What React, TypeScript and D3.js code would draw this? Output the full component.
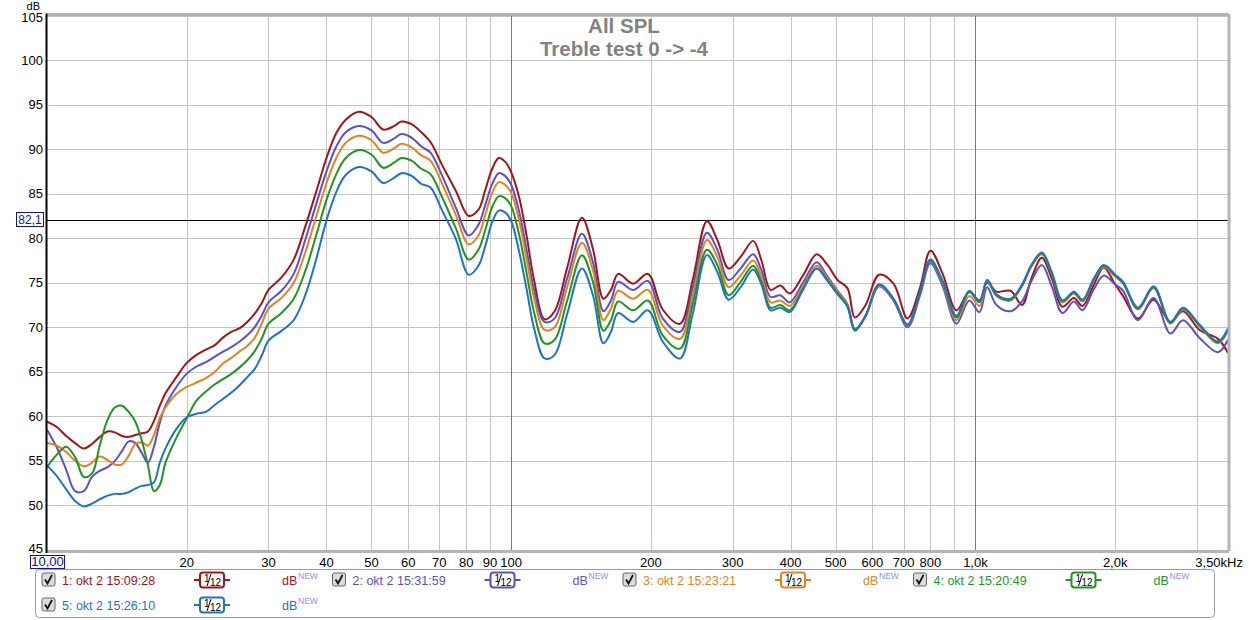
import React from "react";
import * as d3 from "d3";

const freqs = [10, 10.5, 11, 11.5, 12, 12.5, 13, 13.5, 14, 14.5, 15, 15.5, 16, 16.5, 17, 17.5, 18, 19, 20, 21, 22, 23, 24, 25, 26, 27, 28, 29, 30, 32, 34, 36, 38, 40, 42, 44, 47, 50, 53, 56, 58, 61, 64, 67, 71, 76, 81, 85, 88, 91, 94, 97, 100, 104, 108, 112, 118, 124, 132, 142, 150, 158, 164, 170, 183, 197, 212, 231, 246, 264, 278, 294, 312, 332, 346, 362, 380, 398, 425, 455, 480, 505, 530, 550, 580, 620, 666, 714, 760, 800, 850, 910, 970, 1020, 1060, 1110, 1190, 1260, 1320, 1390, 1460, 1540, 1630, 1700, 1800, 1890, 2000, 2080, 2240, 2420, 2630, 2800, 3040, 3330, 3500];

const s1 = [59.4, 58.8, 57.8, 57.0, 56.4, 56.9, 57.7, 58.3, 58.2, 57.8, 57.7, 57.9, 58.1, 58.3, 59.5, 61.2, 62.6, 64.4, 66.0, 66.9, 67.5, 68.0, 68.9, 69.5, 69.9, 70.6, 71.5, 72.7, 74.2, 75.6, 77.6, 81.3, 85.2, 89.0, 91.8, 93.3, 94.2, 93.6, 92.2, 92.6, 93.1, 92.8, 91.9, 90.8, 88.2, 85.3, 82.5, 83.2, 85.5, 87.8, 89.0, 88.6, 87.4, 84.6, 80.2, 75.3, 70.9, 71.8, 76.7, 82.3, 78.8, 73.2, 74.2, 76.0, 74.9, 76.0, 72.0, 70.4, 75.3, 81.9, 79.8, 76.6, 77.9, 79.7, 77.5, 74.2, 74.7, 73.8, 75.8, 78.2, 77.0, 75.3, 74.4, 71.1, 72.5, 75.9, 74.9, 71.0, 74.5, 78.6, 76.0, 71.9, 74.0, 73.0, 75.0, 74.0, 74.1, 72.5, 75.5, 77.8, 75.5, 72.3, 73.3, 72.4, 74.8, 76.7, 74.8, 73.5, 71.0, 73.1, 70.6, 71.8, 69.7, 68.7, 67.1];

const s2 = [58.5, 56.5, 54.0, 51.6, 51.6, 53.2, 53.9, 54.3, 55.0, 56.1, 57.2, 57.0, 55.9, 54.8, 56.6, 59.3, 61.2, 63.3, 64.8, 65.6, 66.1, 66.7, 67.3, 67.8, 68.4, 69.1, 70.0, 71.3, 72.8, 74.1, 76.0, 79.8, 83.8, 87.5, 90.3, 91.9, 92.6, 92.1, 90.7, 91.2, 91.7, 91.3, 90.3, 89.6, 87.0, 83.4, 80.3, 81.5, 83.8, 86.1, 87.3, 87.0, 86.0, 83.0, 78.6, 74.2, 70.6, 71.0, 75.5, 80.5, 77.3, 71.8, 73.0, 75.1, 74.2, 75.2, 71.0, 69.5, 74.4, 80.6, 78.7, 75.3, 76.6, 78.2, 76.4, 73.4, 73.6, 72.8, 75.0, 77.3, 75.7, 74.1, 72.6, 69.8, 71.3, 74.6, 73.0, 70.0, 73.6, 77.2, 74.6, 70.4, 73.0, 71.7, 74.5, 72.5, 71.8, 72.9, 75.2, 77.0, 74.6, 71.6, 72.9, 71.9, 74.3, 75.8, 74.8, 74.1, 70.8, 73.3, 69.3, 70.8, 68.8, 67.2, 68.6];

const s3 = [57.0, 56.7, 56.0, 55.0, 54.4, 54.8, 55.5, 55.1, 54.6, 54.6, 55.6, 56.9, 57.1, 56.7, 57.9, 59.8, 61.0, 62.5, 63.3, 63.8, 64.3, 65.0, 66.0, 66.6, 67.3, 67.9, 68.8, 70.4, 72.1, 73.3, 75.0, 78.4, 82.4, 86.2, 89.0, 90.7, 91.5, 91.0, 89.6, 90.1, 90.6, 90.2, 89.3, 88.7, 86.1, 82.6, 79.3, 80.3, 82.7, 85.1, 86.3, 86.0, 85.1, 82.0, 77.6, 73.3, 69.7, 70.0, 74.5, 79.5, 76.4, 70.8, 72.1, 74.1, 73.2, 74.2, 70.2, 68.7, 73.5, 79.8, 77.9, 74.5, 75.8, 77.5, 75.7, 72.8, 73.0, 72.4, 74.6, 76.9, 75.5, 74.0, 72.5, 69.7, 71.2, 74.7, 73.1, 70.2, 73.8, 77.4, 74.9, 70.8, 73.5, 72.4, 75.2, 73.5, 73.0, 74.6, 76.8, 78.2, 76.0, 72.8, 73.8, 72.9, 75.3, 76.8, 75.7, 74.9, 72.0, 74.4, 70.4, 72.0, 70.1, 68.2, 69.6];

const s4 = [54.3, 55.7, 56.6, 55.4, 53.2, 53.6, 56.8, 59.6, 61.0, 61.2, 60.5, 59.4, 57.3, 54.5, 51.6, 52.3, 54.8, 57.6, 59.8, 61.8, 62.8, 63.6, 64.2, 64.8, 65.5, 66.3, 67.3, 68.7, 70.4, 71.6, 73.2, 76.3, 80.3, 84.3, 87.2, 89.0, 89.9, 89.4, 87.9, 88.5, 89.0, 88.7, 87.8, 87.2, 84.6, 81.1, 77.6, 78.7, 81.0, 83.5, 84.7, 84.5, 83.6, 80.4, 76.0, 71.7, 68.2, 68.6, 73.0, 78.1, 75.1, 69.6, 70.8, 72.9, 71.9, 73.0, 69.1, 67.6, 72.6, 78.7, 77.0, 73.6, 75.1, 76.9, 75.1, 72.2, 72.5, 71.9, 74.3, 76.6, 75.3, 73.8, 72.4, 69.7, 71.3, 74.8, 73.2, 70.3, 73.9, 77.5, 75.1, 71.1, 74.0, 72.8, 75.3, 73.6, 73.1, 74.7, 76.9, 78.3, 76.1, 72.9, 73.9, 73.0, 75.4, 76.9, 75.8, 75.0, 72.1, 74.5, 70.5, 72.1, 70.2, 68.3, 69.8];

const s5 = [54.5, 53.3, 51.8, 50.5, 49.9, 50.2, 50.7, 51.1, 51.3, 51.3, 51.5, 51.9, 52.2, 52.3, 52.6, 54.8, 56.4, 58.6, 59.9, 60.3, 60.5, 61.3, 62.0, 62.7, 63.5, 64.4, 65.3, 66.8, 68.5, 69.6, 70.8, 73.6, 77.6, 82.0, 85.2, 87.1, 88.0, 87.5, 86.2, 86.8, 87.3, 87.0, 86.1, 85.7, 83.1, 79.9, 75.9, 76.9, 79.2, 81.8, 83.1, 82.9, 81.9, 78.5, 74.2, 69.9, 66.5, 66.9, 71.5, 76.6, 73.6, 68.2, 69.5, 71.6, 70.6, 71.9, 68.4, 66.5, 71.5, 78.1, 76.2, 73.1, 74.5, 76.5, 74.8, 71.9, 72.2, 71.7, 74.2, 76.6, 75.2, 73.7, 72.3, 69.6, 71.3, 74.8, 73.2, 70.3, 74.0, 77.6, 75.2, 71.3, 74.1, 72.9, 75.3, 73.7, 73.2, 74.8, 77.0, 78.4, 76.2, 73.0, 74.0, 73.1, 75.5, 77.0, 75.9, 75.1, 72.2, 74.6, 70.6, 72.2, 70.3, 68.4, 69.9];

const seriesValues = [s1, s2, s3, s4, s5];
const seriesNames = ["1: okt 2 15:09:28", "2: okt 2 15:31:59", "3: okt 2 15:23:21", "4: okt 2 15:20:49", "5: okt 2 15:26:10"];
const seriesColors = ["#a3141a", "#5a50c8", "#e2831f", "#1f951f", "#1f72c4"];

const yTicks = [45, 50, 55, 60, 65, 70, 75, 80, 85, 90, 95, 100, 105];
const xGrid = [20, 30, 40, 50, 60, 70, 80, 90, 100, 200, 300, 400, 500, 600, 700, 800, 900, 1000, 2000, 3000];
const xLabelValues = [20, 30, 40, 50, 60, 70, 80, 90, 100, 200, 300, 400, 500, 600, 700, 800, 1000, 2000];
const xLabelTexts = ["20", "30", "40", "50", "60", "70", "80", "90", "100", "200", "300", "400", "500", "600", "700", "800", "1,0k", "2,0k"];
const cursorLevel = 82.1;
const titleLines = ["All SPL", "Treble test 0 -> -4"];

const W = 1249, H = 620;
const L = 47, R = 1228, T = 15.5, B = 550;
const FONT = "Arial, 'Liberation Sans', sans-serif";

function Checkbox({ x, y }: { x: number; y: number }) {
  return (
    <g>
      <rect x={x} y={y} width={13} height={13} rx={2} fill="#dcdcdc" stroke="#666" strokeWidth={1} />
      <path d={`M${x + 3},${y + 6.5} L${x + 5.5},${y + 10.5} L${x + 10},${y + 2}`} fill="none" stroke="#111" strokeWidth={1.8} />
    </g>
  );
}

function SmoothSym({ cx, cy, color }: { cx: number; cy: number; color: string }) {
  return (
    <g>
      <line x1={cx - 18} x2={cx + 18} y1={cy} y2={cy} stroke={color} strokeWidth={2} />
      <rect x={cx - 12} y={cy - 7.5} width={24} height={15} rx={3} fill="#fff" stroke={color} strokeWidth={2} />
      <text x={cx - 8} y={cy + 2} fontSize={10} fontFamily={FONT} fill="#000">1</text>
      <line x1={cx - 1} y1={cy - 6} x2={cx - 5} y2={cy + 6} stroke="#000" strokeWidth={1} />
      <text x={cx - 2} y={cy + 6} fontSize={10} fontFamily={FONT} fill="#000">12</text>
    </g>
  );
}

export default function App() {
  const x = d3.scaleLog().domain([10, 3500]).range([L, R]);
  const y = d3.scaleLinear().domain([45, 105]).range([B, T]);
  const line = d3
    .line<[number, number]>()
    .x((d) => x(d[0]))
    .y((d) => y(d[1]))
    .curve(d3.curveCatmullRom.alpha(0.5));

  const legendItems = seriesNames.map((name, i) => {
    const row = i < 4 ? 0 : 1;
    const col = i < 4 ? i : 0;
    return { name, color: seriesColors[i], bx: 42 + col * 290.5, cy: row === 0 ? 580 : 605 };
  });

  return (
    <svg width={W} height={H} style={{ position: "absolute", left: 0, top: 0, background: "#fff" }} fontFamily={FONT}>
      <rect x={0} y={0} width={W} height={H} fill="#fff" />
      <defs>
        <clipPath id="plot">
          <rect x={L} y={T} width={R - L} height={B - T} />
        </clipPath>
      </defs>
      {/* grid */}
      {yTicks.map((v) => (
        <line key={"hy" + v} x1={L} x2={R} y1={Math.round(y(v)) + 0.5} y2={Math.round(y(v)) + 0.5} stroke="#c4c4c4" strokeWidth={1} />
      ))}
      {xGrid.map((v) => (
        <line
          key={"gx" + v}
          x1={Math.round(x(v)) + 0.5}
          x2={Math.round(x(v)) + 0.5}
          y1={T}
          y2={B}
          stroke={v === 100 || v === 1000 ? "#7a7a7a" : "#c4c4c4"}
          strokeWidth={1}
        />
      ))}
      {/* cursor line */}
      <line x1={L} x2={R} y1={Math.round(y(cursorLevel)) + 0.5} y2={Math.round(y(cursorLevel)) + 0.5} stroke="#000" strokeWidth={1} />
      {/* curves */}
      <g clipPath="url(#plot)">
        {seriesValues.map((vals, i) => (
          <path
            key={"s" + i}
            d={line(freqs.map((f, k) => [f, vals[k]] as [number, number])) || ""}
            fill="none"
            stroke={seriesColors[i]}
            strokeWidth={2}
            strokeLinejoin="round"
          />
        ))}
      </g>
      {/* frame */}
      <line x1={L} x2={R + 1} y1={T - 1} y2={T - 1} stroke="#b4b4b4" strokeWidth={3} />
      <line x1={R + 1} x2={R + 1} y1={T - 1} y2={B + 1} stroke="#b4b4b4" strokeWidth={3} />
      <line x1={L} x2={R + 1} y1={B + 1.5} y2={B + 1.5} stroke="#b4b4b4" strokeWidth={3} />
      <line x1={L - 0.5} x2={L - 0.5} y1={T - 2} y2={B + 3} stroke="#000" strokeWidth={2} />
      {/* title */}
      {titleLines.map((t, i) => (
        <text key={t} x={624} y={33 + i * 23} textAnchor="middle" fontSize={20.5} fontWeight="bold" fill="#828282">
          {t}
        </text>
      ))}
      {/* y axis labels */}
      <text x={40} y={9.5} textAnchor="end" fontSize={11} fill="#000">dB</text>
      {yTicks.map((v) => (
        <text key={"yl" + v} x={43} y={y(v) + (v === 45 ? 3 : v === 105 ? 6 : 4.5)} textAnchor="end" fontSize={13} fill="#000">
          {v}
        </text>
      ))}
      {/* x axis labels */}
      {xLabelValues.map((v, i) => (
        <text key={"xl" + v} x={x(v)} y={567} textAnchor="middle" fontSize={13} fill="#000">
          {xLabelTexts[i]}
        </text>
      ))}
      <text x={1243} y={567} textAnchor="end" fontSize={13} fill="#000">3,50kHz</text>
      {/* start freq box */}
      <rect x={30.5} y={555.5} width={34} height={13} fill="#fff" stroke="#1010b0" strokeWidth={1} />
      <text x={47.5} y={566} textAnchor="middle" fontSize={13} fill="#1010b0">10,00</text>
      {/* cursor level box */}
      <rect x={16.5} y={y(cursorLevel) - 7} width={27} height={14} fill="#fff" stroke="#1010b0" strokeWidth={1} />
      <text x={30} y={y(cursorLevel) + 4.5} textAnchor="middle" fontSize={12} fill="#1010b0">82,1</text>
      {/* legend */}
      <rect x={35.5} y={569.5} width={1179} height={48} rx={4} fill="#fff" stroke="#9a9a9a" strokeWidth={1} />
      {legendItems.map((it) => (
        <g key={it.name}>
          <Checkbox x={it.bx} y={it.cy - 7} />
          <text x={it.bx + 20} y={it.cy + 4.5} fontSize={12.5} fill={it.color}>{it.name}</text>
          <SmoothSym cx={it.bx + 170} cy={it.cy} color={it.color} />
          <text x={it.bx + 240} y={it.cy + 4.5} fontSize={12.5} fill={it.color}>dB</text>
          <text x={it.bx + 256} y={it.cy - 1} fontSize={8.5} fill="#8f8ff0">NEW</text>
        </g>
      ))}
    </svg>
  );
}
